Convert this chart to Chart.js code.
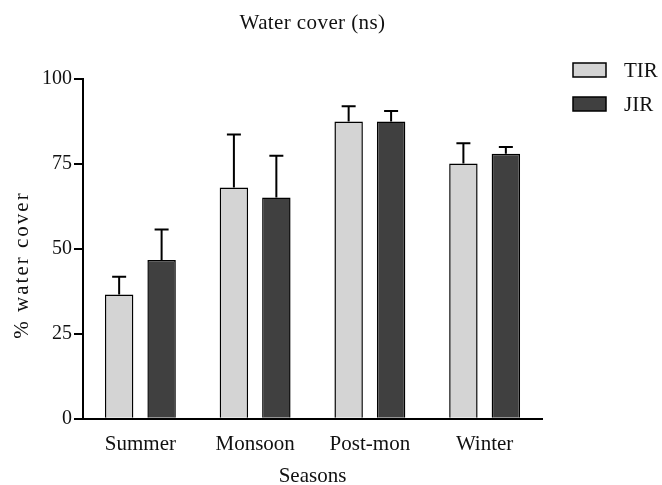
<!DOCTYPE html>
<html>
<head>
<meta charset="utf-8">
<script src="https://cdn.jsdelivr.net/npm/chart.js@4.4.0/dist/chart.umd.min.js"></script>
<style>
  body { margin: 0; background: #fff; }
  #wrap { width: 662px; height: 485px; position: relative; }
</style>
</head>
<body>
<div id="wrap"><canvas id="chart"></canvas></div>
<script>
const seasons = ["Summer", "Monsoon", "Post-mon", "Winter"];
const tirMeans = [36.6, 68.1, 87.5, 75.1];
const tirErrors = [5.2, 15.6, 4.5, 6.0];
const jirMeans = [46.7, 65.1, 87.5, 78.0];
const jirErrors = [9.0, 12.3, 3.1, 2.0];
const yTicks = [0, 25, 50, 75, 100];

const serif = "'Liberation Serif', 'Times New Roman', serif";

// draws the title, y title, legend and the one-sided error bars
const decor = {
    id: 'decor',
    afterDatasetsDraw(chart) {
        const ctx = chart.ctx;
        const y = chart.scales.y;
        ctx.save();
        ctx.strokeStyle = '#000';
        ctx.lineWidth = 2;
        chart.data.datasets.forEach((ds, i) => {
            const meta = chart.getDatasetMeta(i);
            meta.data.forEach((bar, j) => {
                const top = y.getPixelForValue(ds.data[j] + ds.errors[j]);
                ctx.beginPath();
                ctx.moveTo(bar.x, bar.y);
                ctx.lineTo(bar.x, top);
                ctx.moveTo(bar.x - 7, top);
                ctx.lineTo(bar.x + 7, top);
                ctx.stroke();
            });
        });
        ctx.restore();
    },
    afterDraw(chart) {
        const ctx = chart.ctx;
        const area = chart.chartArea;
        ctx.save();
        ctx.fillStyle = '#111';
        ctx.font = '21px ' + serif;
        ctx.textAlign = 'center';
        ctx.textBaseline = 'middle';
        ctx.letterSpacing = '0.4px';
        ctx.fillText('Water cover (ns)', (area.left + area.right) / 2, 23);

        ctx.save();
        ctx.letterSpacing = '2px';
        ctx.translate(22, 265);
        ctx.rotate(-Math.PI / 2);
        ctx.fillText('% water cover', 0, 0);
        ctx.restore();

        // legend
        ctx.letterSpacing = '0px';
        ctx.textAlign = 'left';
        chart.data.datasets.forEach((ds, i) => {
            const by = 63 + i * 34;
            ctx.fillStyle = ds.backgroundColor;
            ctx.fillRect(573, by, 33, 14);
            ctx.strokeStyle = '#000';
            ctx.lineWidth = 1.5;
            ctx.strokeRect(573, by, 33, 14);
            ctx.fillStyle = '#111';
            ctx.fillText(ds.label, 624, by + 8);
        });
        ctx.restore();
    }
};

new Chart(document.getElementById('chart'), {
    type: 'bar',
    data: {
        labels: seasons,
        datasets: [{
            label: 'TIR',
            data: tirMeans,
            errors: tirErrors,
            backgroundColor: '#d4d4d4',
            borderColor: '#000',
            borderWidth: 1.5
        }, {
            label: 'JIR',
            data: jirMeans,
            errors: jirErrors,
            backgroundColor: '#404040',
            borderColor: '#000',
            borderWidth: 1.5
        }]
    },
    options: {
        responsive: true,
        maintainAspectRatio: false,
        animation: false,
        categoryPercentage: 0.74,
        barPercentage: 0.67,
        layout: {
            padding: { top: 79, left: 40, right: 120, bottom: -2 }
        },
        plugins: {
            legend: { display: false },
            tooltip: { enabled: false }
        },
        scales: {
            x: {
                grid: { display: false },
                border: { display: true, color: '#000', width: 2 },
                ticks: {
                    color: '#111',
                    padding: 5,
                    font: { family: serif, size: 21 }
                },
                title: {
                    display: true,
                    text: 'Seasons',
                    color: '#111',
                    padding: { top: 4, bottom: 0 },
                    font: { family: serif, size: 21, lineHeight: 1.0 }
                }
            },
            y: {
                min: 0,
                max: 100,
                afterBuildTicks(scale) {
                    scale.ticks = yTicks.map(v => ({ value: v }));
                },
                grid: {
                    display: true,
                    drawOnChartArea: false,
                    drawTicks: true,
                    tickLength: 9,
                    color: '#000',
                    lineWidth: 2
                },
                border: { display: true, color: '#000', width: 2 },
                ticks: {
                    color: '#111',
                    padding: 2,
                    font: { family: serif, size: 20 }
                }
            }
        }
    },
    plugins: [decor]
});
</script>
</body>
</html>
